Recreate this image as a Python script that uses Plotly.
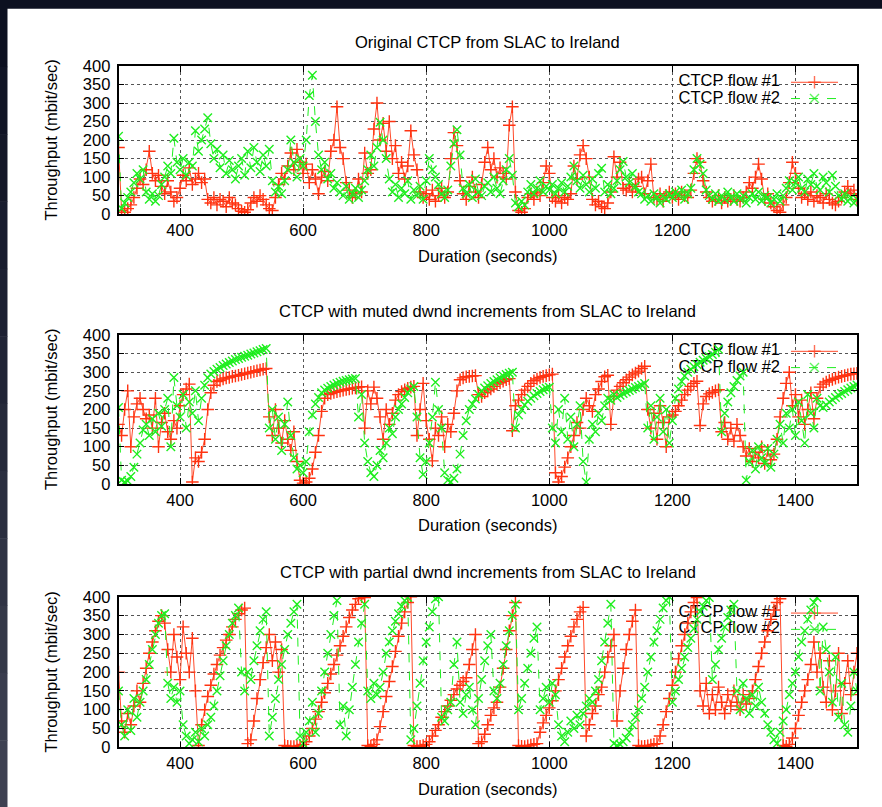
import plotly.graph_objects as go

W, H = 882, 807

# ---------------- data ----------------
time_s = list(range(300, 1501, 5))

x_ticks = [400, 600, 800, 1000, 1200, 1400]
y_ticks = [0, 50, 100, 150, 200, 250, 300, 350, 400]

titles = [
    "Original CTCP from SLAC to Ireland",
    "CTCP with muted dwnd increments from SLAC to Ireland",
    "CTCP with partial dwnd increments from SLAC to Ireland",
]
series_names = ["CTCP flow #1", "CTCP flow #2"]

orig_flow1 = [
    180, 10, 5, 15, 25, 45, 70, 95, 80, 120, 170, 110, 90, 105, 75, 55, 90, 60, 35, 45,
    70, 105, 90, 125, 80, 95, 110, 85, 95, 40, 30, 45, 25, 40, 35, 20, 45, 30, 25, 15,
    8, 5, 12, 30, 45, 35, 50, 40, 25, 15, 10, 45, 80, 110, 95, 130, 165, 120, 175, 140,
    110, 135, 85, 120, 95, 55, 100, 115, 90, 170, 200, 290, 180, 150, 85, 65, 45, 55, 95, 60,
    165, 110, 120, 230, 300, 200, 245, 170, 250, 150, 185, 110, 140, 95, 130, 225, 160, 120, 60, 45,
    55, 40, 65, 35, 50, 70, 45, 60, 150, 220, 185, 90, 55, 40, 75, 100, 60, 45, 80, 140,
    180, 120, 150, 100, 125, 110, 95, 240, 290, 60, 10, 5, 15, 45, 55, 40, 60, 50, 85, 130,
    110, 45, 35, 50, 30, 45, 40, 55, 130, 95, 160, 185, 150, 100, 40, 25, 35, 20, 15, 30,
    60, 155, 100, 140, 70, 65, 80, 60, 75, 95, 100, 55, 90, 135, 45, 40, 55, 35, 50, 60,
    45, 55, 40, 60, 50, 45, 65, 110, 150, 140, 90, 60, 45, 35, 40, 50, 30, 45, 35, 40,
    50, 40, 35, 45, 60, 85, 70, 100, 135, 95, 40, 55, 30, 20, 10, 5, 25, 45, 85, 140,
    110, 70, 45, 55, 40, 60, 35, 50, 45, 30, 55, 40, 30, 25, 35, 45, 60, 75, 55, 65,
    40,
]
orig_flow2 = [
    210, 15, 30, 45, 60, 85, 110, 95, 120, 60, 40, 55, 35, 50, 80, 100, 130, 110, 205, 140,
    120, 150, 105, 140, 130, 225, 170, 200, 230, 260, 190, 150, 175, 125, 160, 110, 145, 120, 95, 130,
    150, 105, 170, 125, 180, 140, 115, 160, 130, 175, 90, 60, 75, 55, 90, 120, 200, 140, 100, 150,
    130, 200, 320, 375, 250, 160, 120, 140, 95, 110, 70, 85, 60, 50, 75, 40, 55, 70, 45, 65,
    90, 120, 160, 130, 180, 248, 200, 150, 95, 60, 80, 45, 70, 55, 90, 40, 65, 50, 75, 40,
    90, 150, 120, 100, 80, 55, 45, 65, 130, 190, 228, 160, 70, 55, 80, 45, 95, 60, 50, 75,
    85, 60, 100, 70, 55, 90, 120, 150, 105, 30, 20, 35, 25, 60, 80, 55, 70, 90, 60, 75,
    65, 80, 55, 70, 85, 60, 75, 100, 130, 90, 70, 105, 80, 60, 95, 70, 110, 124, 60, 80,
    55, 70, 90, 120, 142, 100, 85, 110, 75, 60, 55, 40, 50, 35, 55, 45, 30, 50, 40, 55,
    45, 60, 50, 65, 40, 55, 70, 120, 150, 135, 110, 65, 50, 40, 55, 35, 50, 40, 60, 45,
    35, 55, 40, 50, 30, 45, 55, 40, 60, 35, 50, 45, 30, 40, 55, 35, 50, 70, 90, 65,
    85, 100, 70, 60, 95, 80, 110, 75, 65, 100, 85, 60, 105, 75, 50, 40, 55, 35, 45, 30,
    40,
]

muted_flow1 = [
    160, 130, 200, 250, 100, 180, 215, 230, 200, 175, 185, 150, 230, 100, 165, 190, 140, 120, 170, 150,
    210, 240, 255, 268, 5, 70, 60, 85, 120, 200, 245, 265, 275, 278, 282, 285, 286, 289, 290, 292,
    294, 296, 298, 300, 302, 304, 306, 308, 310, 180, 130, 200, 150, 110, 170, 120, 90, 140, 60, 10,
    2, 5, 15, 40, 85, 130, 195, 230, 240, 243, 246, 248, 250, 252, 254, 255, 257, 258, 260, 261,
    150, 250, 215, 260, 230, 180, 120, 200, 160, 190, 225, 240, 248, 253, 257, 260, 262, 130, 200, 270,
    170, 120, 62, 150, 130, 180, 100, 160, 140, 190, 250, 280, 285, 288, 289, 290, 291, 240, 235, 245,
    250, 255, 262, 268, 272, 276, 280, 283, 143, 210, 225, 240, 252, 262, 270, 277, 282, 286, 289, 291,
    293, 295, 30, 5, 20, 45, 70, 100, 130, 165, 150, 200, 230, 210, 195, 240, 255, 275, 288, 292,
    160, 235, 252, 262, 272, 280, 287, 293, 298, 303, 310, 316, 200, 150, 190, 120, 210, 165, 100, 180,
    185, 195, 210, 225, 240, 252, 262, 270, 276, 157, 215, 235, 242, 246, 250, 253, 140, 165, 120, 150,
    115, 160, 130, 100, 75, 95, 60, 85, 70, 100, 55, 90, 65, 80, 120, 180, 230, 270, 300, 210,
    240, 180, 225, 160, 200, 245, 175, 230, 260, 268, 274, 278, 281, 284, 287, 289, 291, 293, 295, 296,
    297,
]
muted_flow2 = [
    205, 10, 5, 8, 20, 45, 80, 110, 145, 160, 130, 175, 140, 190, 155, 200, 230, 100, 286, 210,
    180, 240, 150, 220, 190, 250, 170, 230, 265, 285, 295, 302, 308, 313, 318, 322, 326, 330, 334, 337,
    340, 343, 346, 349, 352, 355, 358, 361, 364, 150, 200, 120, 180, 90, 160, 220, 130, 70, 40, 50,
    30, 60, 140, 185, 215, 232, 245, 252, 257, 262, 266, 270, 273, 276, 278, 280, 282, 283, 180, 240,
    110, 60, 30, 20, 50, 90, 70, 110, 150, 135, 180, 200, 215, 232, 245, 255, 262, 180, 70, 25,
    60, 110, 180, 273, 200, 150, 30, 10, 5, 15, 40, 80, 130, 170, 200, 215, 228, 240, 250, 258,
    264, 270, 275, 280, 285, 290, 294, 297, 300, 150, 185, 200, 212, 222, 230, 237, 243, 248, 253, 257,
    260, 150, 110, 200, 140, 230, 120, 180, 100, 160, 210, 60, 5, 120, 160, 140, 190, 170, 210, 230,
    225, 240, 232, 238, 243, 247, 251, 255, 259, 262, 266, 270, 150, 210, 120, 180, 230, 140, 200, 110,
    170, 230, 255, 275, 290, 300, 308, 315, 321, 327, 332, 337, 342, 348, 354, 362, 140, 190, 220, 245,
    262, 278, 290, 300, 10, 60, 90, 40, 100, 70, 55, 95, 45, 80, 120, 160, 110, 190, 150, 200,
    130, 220, 170, 110, 240, 190, 150, 230, 210, 205, 212, 220, 226, 232, 238, 243, 248, 253, 258, 262,
    266,
]

partial_flow1 = [
    200, 70, 40, 90, 60, 110, 150, 120, 170, 210, 250, 280, 310, 335, 350, 330, 260, 200, 300, 240,
    180, 320, 250, 200, 290, 150, 5, 60, 100, 135, 165, 195, 220, 245, 265, 285, 300, 320, 340, 355,
    365, 370, 10, 20, 70, 130, 180, 225, 265, 300, 230, 280, 200, 260, 5, 3, 2, 2, 3, 5,
    8, 15, 30, 50, 75, 95, 120, 145, 170, 195, 220, 245, 270, 295, 320, 345, 365, 380, 395, 400,
    398, 5, 3, 8, 20, 55, 95, 135, 175, 215, 255, 295, 330, 360, 385, 400, 5, 2, 3, 5,
    8, 15, 30, 45, 60, 80, 95, 110, 125, 140, 155, 165, 175, 185, 220, 260, 300, 10, 15, 35,
    60, 85, 105, 120, 160, 210, 260, 310, 350, 385, 5, 3, 2, 4, 6, 8, 10, 40, 65, 85,
    105, 124, 150, 180, 210, 240, 270, 295, 320, 340, 360, 372, 30, 60, 90, 110, 140, 160, 200, 240,
    270, 300, 70, 150, 210, 260, 300, 335, 365, 5, 2, 3, 4, 6, 8, 10, 30, 60, 95, 130,
    165, 200, 235, 270, 300, 330, 360, 385, 398, 150, 110, 170, 90, 140, 100, 160, 120, 90, 140, 110,
    150, 120, 100, 140, 115, 130, 150, 180, 215, 250, 280, 310, 340, 365, 385, 395, 5, 3, 8, 25,
    50, 85, 120, 150, 180, 220, 280, 200, 250, 160, 120, 230, 100, 150, 250, 90, 170, 230, 140, 200,
    250,
]
partial_flow2 = [
    150, 60, 30, 100, 45, 130, 80, 120, 150, 180, 220, 260, 300, 330, 350, 355, 170, 130, 160, 120,
    150, 60, 30, 10, 20, 40, 15, 50, 30, 60, 80, 110, 150, 190, 230, 270, 300, 330, 350, 370,
    200, 150, 200, 180, 230, 270, 310, 340, 360, 30, 80, 130, 180, 220, 260, 300, 330, 360, 380, 30,
    10, 40, 70, 120, 40, 90, 150, 200, 250, 300, 350, 390, 60, 110, 30, 100, 160, 220, 280, 330,
    380, 150, 130, 170, 140, 160, 200, 250, 280, 310, 335, 355, 375, 390, 398, 20, 50, 110, 170, 230,
    280, 320, 360, 395, 400, 80, 70, 100, 120, 220, 280, 120, 90, 140, 160, 100, 60, 130, 180, 230,
    270, 300, 150, 130, 170, 220, 270, 310, 350, 380, 100, 130, 170, 210, 250, 290, 320, 100, 130, 160,
    120, 170, 140, 60, 30, 15, 40, 70, 50, 85, 60, 90, 110, 130, 120, 150, 180, 230, 280, 330,
    380, 10, 5, 8, 15, 25, 40, 60, 80, 100, 130, 160, 200, 240, 280, 310, 340, 370, 390, 400,
    120, 150, 180, 210, 240, 265, 290, 315, 340, 360, 375, 390, 398, 180, 220, 260, 290, 320, 345, 365,
    380, 150, 100, 170, 130, 90, 140, 110, 160, 120, 90, 60, 40, 20, 10, 40, 70, 100, 140, 170,
    200, 240, 280, 310, 340, 365, 385, 398, 150, 320, 260, 200, 120, 240, 80, 170, 60, 40, 110, 200,
    150,
]

panels = [
    (orig_flow1, orig_flow2),
    (muted_flow1, muted_flow2),
    (partial_flow1, partial_flow2),
]
for a, b in panels:
    assert len(a) == len(time_s) and len(b) == len(time_s), (len(a), len(b))

# ---------------- style ----------------
RED = "#ff3311"
RED_LINE = "#ff4a2a"
GREEN = "#1fee1f"
FONT = "Liberation Sans, Arial, Helvetica, sans-serif"
FS = 16.5
BG_DARK = "#0c1020"

# layout positions are given in target-picture pixels
PX_L, PX_R = 118.5, 857.0
TOPS = [64.7, 334.0, 596.0]
BOTS = [213.0, 483.0, 746.7]
X_RANGE = [300, 1500]
Y_RANGE = [0, 400]

# the photographed page is shifted/compressed vertically; map target rows to page rows
SY, OY = 0.9786, 7.66


def X(px):
    return px / W


def Y(ty):
    return 1 - ((ty - OY) / SY) / H


def data_x(px):
    return X_RANGE[0] + (px - PX_L) * (X_RANGE[1] - X_RANGE[0]) / (PX_R - PX_L)


def data_y(ty, top, bot):
    return Y_RANGE[0] + (bot - ty) * (Y_RANGE[1] - Y_RANGE[0]) / (bot - top)


fig = go.Figure()
layout = {}
annotations = []
shapes = []

for i, (f1, f2) in enumerate(panels):
    n = "" if i == 0 else str(i + 1)
    xa, ya = "x" + n, "y" + n
    top, bot = TOPS[i], BOTS[i]

    # key first, so the data are drawn over it (as in gnuplot)
    rows = [top + 16.3, top + 32.6]
    fig.add_trace(go.Scatter(
        x=[data_x(780)] * 2, y=[data_y(r, top, bot) for r in rows], xaxis=xa, yaxis=ya,
        mode="text", text=series_names, textposition="middle left",
        textfont=dict(family=FONT, size=FS, color="black"),
        cliponaxis=False, showlegend=False, hoverinfo="skip"))
    for k in range(2):
        yk = data_y(rows[k], top, bot)
        fig.add_trace(go.Scatter(
            x=[data_x(791), data_x(814.5), data_x(838)], y=[yk, yk, yk], xaxis=xa, yaxis=ya,
            mode="lines+markers",
            line=dict(color=RED_LINE if k == 0 else GREEN, width=1,
                      dash="solid" if k == 0 else "dash"),
            marker=dict(symbol="cross-thin" if k == 0 else "x-thin", size=[0, 9, 0],
                        color=RED if k == 0 else GREEN,
                        line=dict(color=RED if k == 0 else GREEN, width=1.4)),
            cliponaxis=False, showlegend=False, hoverinfo="skip"))

    fig.add_trace(go.Scatter(
        x=time_s, y=f1, xaxis=xa, yaxis=ya, mode="lines+markers", name=series_names[0],
        line=dict(color=RED_LINE, width=1),
        marker=dict(symbol="cross-thin", size=9, color=RED, line=dict(color=RED, width=1.4)),
        showlegend=False, hoverinfo="skip"))
    fig.add_trace(go.Scatter(
        x=time_s, y=f2, xaxis=xa, yaxis=ya, mode="lines+markers", name=series_names[1],
        line=dict(color=GREEN, width=1, dash="dash"),
        marker=dict(symbol="x-thin", size=8.5, color=GREEN, line=dict(color=GREEN, width=1.4)),
        showlegend=False, hoverinfo="skip"))

    common = dict(showline=True, mirror="allticks", linecolor="black", linewidth=1.6,
                  ticks="inside", ticklen=6, tickwidth=1.2, tickcolor="black",
                  showgrid=True, gridcolor="#555555", gridwidth=1, griddash="dot",
                  zeroline=False, tickfont=dict(family=FONT, size=FS, color="black"),
                  fixedrange=True)
    layout["xaxis" + n] = dict(common, domain=[X(PX_L), X(PX_R)], anchor=ya,
                               range=X_RANGE, tickvals=x_ticks, ticklabelstandoff=0,
                               ticktext=[str(v) for v in x_ticks])
    layout["yaxis" + n] = dict(common, domain=[Y(bot), Y(top)], anchor=xa,
                               range=Y_RANGE, tickvals=y_ticks, ticklabelstandoff=3,
                               ticktext=[str(v) for v in y_ticks])

    cx = (PX_L + PX_R) / 2
    annotations.append(dict(text=titles[i], x=X(cx), y=Y(top - 24.5), xref="paper", yref="paper",
                            showarrow=False, xanchor="center", yanchor="middle",
                            font=dict(family=FONT, size=FS, color="black")))
    annotations.append(dict(text="Duration (seconds)", x=X(cx), y=Y(bot + 41.5),
                            xref="paper", yref="paper", showarrow=False,
                            xanchor="center", yanchor="middle",
                            font=dict(family=FONT, size=FS, color="black")))
    annotations.append(dict(text="Throughput (mbit/sec)", x=X(51.5), y=Y((top + bot) / 2),
                            xref="paper", yref="paper", showarrow=False, textangle=-90,
                            xanchor="center", yanchor="middle",
                            font=dict(family=FONT, size=FS, color="black")))

# dark frame: top strip and a gradient strip on the left edge
shapes.append(dict(type="rect", xref="paper", yref="paper", x0=0, x1=1.0,
                   y0=Y(7.5), y1=Y(-2), fillcolor=BG_DARK, line=dict(width=0)))
band_cols = ["#0c1020", "#10142500", "#141828", "#181c2e", "#1c2032", "#202436", "#25293a", "#2a2e3f",
             "#2f3344", "#343848", "#393c4d", "#3e4152"]
band_cols = [c[:7] for c in band_cols]
nb = len(band_cols)
span = 809.0
for j, c in enumerate(band_cols):
    shapes.append(dict(type="rect", xref="paper", yref="paper", x0=0, x1=X(7.5),
                       y0=Y(-2 + span * (j + 1) / nb + 0.5), y1=Y(-2 + span * j / nb),
                       fillcolor=c, line=dict(width=0)))

fig.update_layout(
    width=W, height=H, autosize=False,
    margin=dict(l=0, r=0, t=0, b=0, pad=0),
    paper_bgcolor="white", plot_bgcolor="white",
    showlegend=False,
    annotations=annotations, shapes=shapes,
    **layout,
)

post = (
    "document.documentElement.style.margin='0';"
    "document.documentElement.style.background='white';"
    "document.documentElement.style.overflow='hidden';"
    "document.body.style.margin='0';document.body.style.padding='0';"
    "document.body.style.overflow='hidden';document.body.style.background='white';"
    "var d=document.getElementById('{plot_id}');"
    "d.style.position='fixed';d.style.left='0px';d.style.top='0px';"
)
fig.write_html("out.html", config={"displayModeBar": False}, post_script=post)
